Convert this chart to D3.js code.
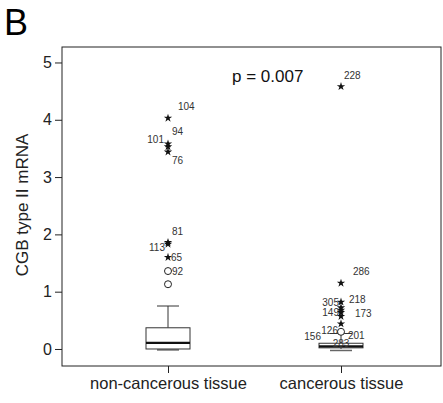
<!DOCTYPE html>
<html><head><meta charset="utf-8">
<script src="https://cdn.jsdelivr.net/npm/d3@7"></script>
<style>body{margin:0;background:#fff;} svg{display:block;font-family:Arial, "Liberation Sans", sans-serif;}</style>
</head><body>
<svg id="c" width="443" height="403"></svg>
<script>
// ---- data ----
const categories = ["non-cancerous tissue", "cancerous tissue"];
const boxMin    = [0.01, 0.0];
const boxQ1     = [0.0, 0.02];
const boxMedian = [0.105, 0.045];
const boxQ3     = [0.37, 0.10];
const boxMax    = [0.75, 0.27];
const yTicks = [0, 1, 2, 3, 4, 5];
// outliers: category index, value, label, kind
const outlierCat   = [0, 0, 0, 0, 0, 0, 0, 0, 0, 1, 1, 1, 1, 1, 1, 1, 1, 1, 1, 1, 1];
const outlierVal   = [4.03, 3.58, 3.53, 3.44, 1.86, 1.83, 1.60, 1.36, 1.13, 4.58, 1.15, 0.82, 0.72, 0.68, 0.64, 0.57, 0.44, 0.30, 0.25, 0.26, 0.07];
const outlierLabel = ["104", "94", "101", "76", "81", "113", "65", "92", "", "228", "286", "305", "218", "149", "173", "", "", "126", "156", "201", "283"];
const outlierKind  = ["star", "star", "star", "star", "star", "star", "star", "circle", "circle", "star", "star", "star", "star", "star", "star", "star", "star", "circle", "none", "none", "none"];
const pText = "p = 0.007";
const yTitle = "CGB type II mRNA";
const panelLetter = "B";

// label placement (layout)
const labelOffset = {
  "104": [10, -8, "start"], "94": [4, -9, "start"], "101": [-4, -4, "end"], "76": [4, 12, "start"],
  "81": [4, -7, "start"], "113": [-3, 7, "end"], "65": [3, 4, "start"], "92": [4, 4, "start"],
  "228": [3, -8, "start"], "286": [12, -8, "start"], "305": [-2, 4, "end"], "218": [8, -5, "start"],
  "149": [-2, 6, "end"], "173": [14, 5, "start"], "126": [-3, 2, "end"], "156": [-20, 5, "end"],
  "201": [7, 5, "start"], "283": [0, 2, "middle"]
};

const svg = d3.select("#c");
const L = 62, R = 441, T = 47, B = 366;
const y = d3.scaleLinear().domain([-0.297, 5.27]).range([B, T]);
const x = d3.scalePoint().domain(categories).range([168, 341]);

// frame
svg.append("rect").attr("x", L).attr("y", T).attr("width", R - L).attr("height", B - T)
  .attr("fill", "none").attr("stroke", "#222").attr("stroke-width", 1);

// y axis
const ya = svg.append("g").attr("transform", `translate(${L},0)`)
  .call(d3.axisLeft(y).tickValues(yTicks).tickSize(7).tickPadding(3).tickFormat(d3.format("d")));
ya.select(".domain").remove();
ya.selectAll("line").attr("stroke", "#222");
ya.selectAll("text").attr("font-size", 16).attr("fill", "#222");

// x axis
const xa = svg.append("g").attr("transform", `translate(0,${B})`)
  .call(d3.axisBottom(x).tickSize(7).tickPadding(4));
xa.select(".domain").remove();
xa.selectAll("line").attr("stroke", "#222");
xa.selectAll("text").attr("font-size", 16.5).attr("fill", "#222");

// boxes
const bw = 44, cw = 22;
categories.forEach((c, i) => {
  const cx = x(c);
  const g = svg.append("g").attr("stroke", "#333").attr("fill", "none");
  g.append("line").attr("x1", cx).attr("x2", cx).attr("y1", y(boxQ3[i])).attr("y2", y(boxMax[i]));
  g.append("line").attr("x1", cx - cw/2).attr("x2", cx + cw/2).attr("y1", y(boxMax[i])).attr("y2", y(boxMax[i]));
  g.append("line").attr("x1", cx).attr("x2", cx).attr("y1", y(boxQ1[i])).attr("y2", y(boxMin[i]));
  g.append("line").attr("x1", cx - cw/2).attr("x2", cx + cw/2).attr("y1", y(boxMin[i]) + 1.5).attr("y2", y(boxMin[i]) + 1.5).attr("stroke", "#666").attr("stroke-width", 1.5);
  g.append("rect").attr("x", cx - bw/2).attr("y", y(boxQ3[i])).attr("width", bw)
    .attr("height", y(boxQ1[i]) - y(boxQ3[i])).attr("fill", "#fff");
  g.append("line").attr("x1", cx - bw/2).attr("x2", cx + bw/2).attr("y1", y(boxMedian[i])).attr("y2", y(boxMedian[i]))
    .attr("stroke", "#111").attr("stroke-width", 2.2);
});

// outliers
const star = d3.symbol().type(d3.symbolStar).size(22);
outlierVal.forEach((v, k) => {
  const cx = x(categories[outlierCat[k]]);
  const cy = y(v);
  if (outlierKind[k] === "star") {
    svg.append("path").attr("d", star).attr("transform", `translate(${cx},${cy})`).attr("fill", "#111");
  } else if (outlierKind[k] === "circle") {
    svg.append("circle").attr("cx", cx).attr("cy", cy).attr("r", 3.5).attr("fill", "#fff").attr("stroke", "#222").attr("stroke-width", 1);
  }
  const lab = outlierLabel[k];
  if (lab) {
    const o = labelOffset[lab] || [4, 3, "start"];
    svg.append("text").attr("x", cx + o[0]).attr("y", cy + o[1]).attr("text-anchor", o[2])
      .attr("font-size", 10).attr("fill", "#333").text(lab);
  }
});

// p text
svg.append("text").attr("x", 232).attr("y", 82).attr("font-size", 17).attr("fill", "#111").text(pText);

// y title
svg.append("text").attr("transform", "translate(28,205) rotate(-90)").attr("text-anchor", "middle")
  .attr("font-size", 17).attr("fill", "#222").text(yTitle);

// panel letter
svg.append("text").attr("x", 4).attr("y", 35).attr("font-size", 36).attr("fill", "#000").text(panelLetter);
</script>
</body></html>
